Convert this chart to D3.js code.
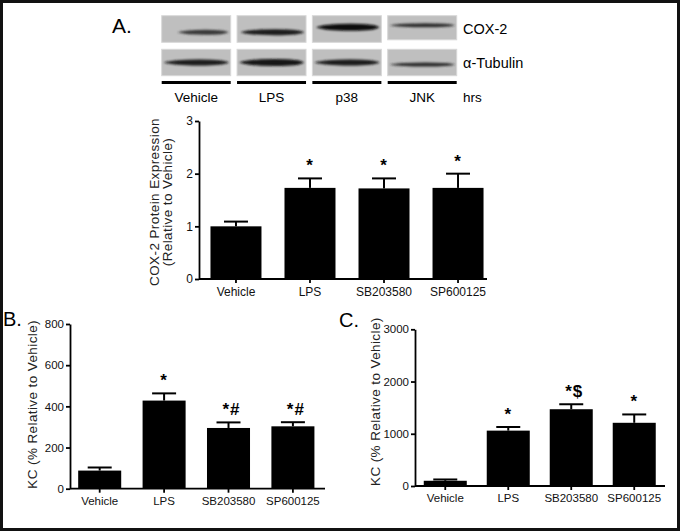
<!DOCTYPE html>
<html>
<head>
<meta charset="utf-8">
<script src="https://cdn.jsdelivr.net/npm/d3@7"></script>
<style>
  body { margin: 0; background: #fff; }
  svg { display: block; font-family: "Liberation Sans", Arial, sans-serif; }
</style>
</head>
<body>
<svg width="681" height="532"></svg>
<script>
// western blot lanes (panel A top)
var blotLanes = ["Vehicle", "LPS", "p38", "JNK"];
var coxBand = [0.75, 0.9, 1.0, 0.8];      // relative band darkness
var coxBandY = [0.62, 0.62, 0.43, 0.36];  // band centre, fraction of box
var coxBandStart = [0.2, 0.02, 0.02, 0.0];
var tubBand = [0.9, 0.95, 0.9, 0.8];
var tubBandY = [0.5, 0.5, 0.5, 0.58];

// bar charts
var groups = ["Vehicle", "LPS", "SB203580", "SP600125"];

var coxMean = [1.0, 1.73, 1.72, 1.73];
var coxErr = [0.09, 0.18, 0.19, 0.27];
var coxSig = ["", "*", "*", "*"];
var coxTicks = [0, 1, 2, 3];

var kcBMean = [88, 428, 295, 303];
var kcBErr = [15, 35, 27, 20];
var kcBSig = ["", "*", "*#", "*#"];
var kcBTicks = [0, 200, 400, 600, 800];

var kcCMean = [100, 1060, 1470, 1210];
var kcCErr = [25, 70, 95, 160];
var kcCSig = ["", "*", "*$", "*"];
var kcCTicks = [0, 1000, 2000, 3000];

var svg = d3.select("svg");

var defs = svg.append("defs");
defs.append("filter").attr("id", "blur")
    .attr("x", "-10%").attr("y", "-100%").attr("width", "120%").attr("height", "300%")
  .append("feGaussianBlur").attr("stdDeviation", "1.3 1.1");

// outer frame
svg.append("rect")
    .attr("x", 1.5).attr("y", 1.5)
    .attr("width", 677).attr("height", 528)
    .attr("fill", "none").attr("stroke", "#111").attr("stroke-width", 3);

// ---- blot ----
var lx = d3.scaleBand().domain(blotLanes).range([161.7, 456.7]).paddingInner(0.084);
var rows = [
  {top: 15.7, h: 26.6, dark: coxBand, cy: coxBandY, start: coxBandStart, thick: [5, 6, 7, 4], label: "COX-2"},
  {top: 49.3, h: 26.4, dark: tubBand, cy: tubBandY, start: [0, 0, 0, 0], thick: [6, 7, 6, 4], label: "\u03b1-Tubulin"}
];

rows.forEach(function(r) {
  var g = svg.append("g");
  g.selectAll("rect.box")
    .data(blotLanes)
    .enter().append("rect")
      .attr("class", "box")
      .attr("x", function(d) { return lx(d); })
      .attr("y", r.top)
      .attr("width", lx.bandwidth())
      .attr("height", function(d, i) { return (r.label == "COX-2" && i == 3) ? r.h - 2.5 : r.h; })
      .attr("fill", "#bfbfbf")
      .attr("stroke", "#d8d8d8")
      .attr("stroke-width", 1);

  g.selectAll("path.band")
    .data(blotLanes)
    .enter().append("path")
      .attr("class", "band")
      .attr("filter", "url(#blur)")
      .attr("fill", function(d, i) { return d3.interpolateRgb("#bfbfbf", "#0a0a0a")(r.dark[i]); })
      .attr("d", function(d, i) {
        var x0 = lx(d) + lx.bandwidth() * r.start[i] + 2,
            x1 = lx(d) + lx.bandwidth() - 2,
            cy = r.top + r.h * r.cy[i],
            t = r.thick[i] / 2,
            mx = x0 + (x1 - x0) * 0.55;
        return "M" + x0 + "," + cy +
          " Q" + (x0 + (x1 - x0) * 0.15) + "," + (cy - t) + " " + mx + "," + (cy - t) +
          " Q" + (x1 - 4) + "," + (cy - t) + " " + x1 + "," + cy +
          " Q" + (x1 - 4) + "," + (cy + t) + " " + mx + "," + (cy + t) +
          " Q" + (x0 + (x1 - x0) * 0.15) + "," + (cy + t) + " " + x0 + "," + cy + "Z";
      });

  g.append("text")
      .attr("x", 463).attr("y", r.top + r.h / 2 + 5)
      .attr("font-size", 14.5)
      .text(r.label);
});

svg.selectAll("line.lane")
  .data(blotLanes)
  .enter().append("line")
    .attr("x1", function(d) { return lx(d); })
    .attr("x2", function(d) { return lx(d) + lx.bandwidth(); })
    .attr("y1", 82.5).attr("y2", 82.5)
    .attr("stroke", "#000").attr("stroke-width", 3);

svg.selectAll("text.lane")
  .data(blotLanes)
  .enter().append("text")
    .attr("x", function(d) { return lx(d) + lx.bandwidth() / 2; })
    .attr("y", 102)
    .attr("text-anchor", "middle")
    .attr("font-size", 13.5)
    .text(function(d) { return d; });

svg.append("text").attr("x", 463).attr("y", 102).attr("font-size", 13.5).text("hrs");

// panel letters
svg.append("text").attr("x", 112).attr("y", 33).attr("font-size", 21).text("A.");
svg.append("text").attr("x", 3).attr("y", 326).attr("font-size", 20).text("B.");
svg.append("text").attr("x", 339).attr("y", 327).attr("font-size", 20).text("C.");

// ---- bar chart helper ----
function barChart(o) {
  var x = d3.scaleBand().domain(groups)
      .range([o.left, o.right])
      .paddingInner(o.pi).paddingOuter(o.po);
  var y = d3.scaleLinear().domain([0, d3.max(o.ticks)]).range([o.bottom, o.top]);
  var g = svg.append("g");

  g.selectAll("rect.bar")
    .data(o.mean)
    .enter().append("rect")
      .attr("class", "bar")
      .attr("x", function(d, i) { return x(groups[i]); })
      .attr("y", function(d) { return y(d); })
      .attr("width", x.bandwidth())
      .attr("height", function(d) { return y(0) - y(d); })
      .attr("fill", "#000");

  var eb = g.selectAll("g.err")
    .data(o.mean)
    .enter().append("g").attr("class", "err");
  eb.append("line")
      .attr("x1", function(d, i) { return x(groups[i]) + x.bandwidth() / 2; })
      .attr("x2", function(d, i) { return x(groups[i]) + x.bandwidth() / 2; })
      .attr("y1", function(d) { return y(d); })
      .attr("y2", function(d, i) { return y(d + o.err[i]); })
      .attr("stroke", "#000").attr("stroke-width", 2);
  eb.append("line")
      .attr("x1", function(d, i) { return x(groups[i]) + x.bandwidth() / 2 - o.cap; })
      .attr("x2", function(d, i) { return x(groups[i]) + x.bandwidth() / 2 + o.cap; })
      .attr("y1", function(d, i) { return y(d + o.err[i]); })
      .attr("y2", function(d, i) { return y(d + o.err[i]); })
      .attr("stroke", "#000").attr("stroke-width", 2);

  g.selectAll("text.sig")
    .data(o.sig)
    .enter().append("text")
      .attr("class", "sig")
      .attr("x", function(d, i) { return x(groups[i]) + x.bandwidth() / 2 + (d.length > 1 ? 3 : 0); })
      .attr("y", function(d, i) { return y(o.mean[i] + o.err[i]) - 7; })
      .attr("text-anchor", "middle")
      .attr("font-size", 17)
      .attr("font-weight", "bold")
      .attr("letter-spacing", 1)
      .text(function(d) { return d; });

  // y axis
  var ya = g.append("g")
      .attr("transform", "translate(" + o.left + ",0)")
      .call(d3.axisLeft(y).tickValues(o.ticks).tickFormat(d3.format("d"))
        .tickSize(4).tickSizeOuter(0).tickPadding(2));
  ya.selectAll("path, line").attr("stroke", "#000").attr("stroke-width", 1.8);
  ya.selectAll("text").attr("font-size", o.fs).attr("fill", "#111")
      .attr("font-family", "Liberation Sans, Arial, sans-serif");

  // x axis
  var xa = g.append("g")
      .attr("transform", "translate(0," + o.bottom + ")")
      .call(d3.axisBottom(x).tickSize(4).tickSizeOuter(0).tickPadding(4));
  xa.select("path.domain").attr("d", "M" + o.left + ",0H" + o.axisEnd);
  xa.selectAll("path, line").attr("stroke", "#000").attr("stroke-width", 1.8);
  xa.selectAll("text").attr("font-size", o.fs).attr("fill", "#111")
      .attr("font-family", "Liberation Sans, Arial, sans-serif");

  // y title
  var yt = g.append("text")
      .attr("transform", "translate(" + o.titleX + "," + ((o.top + o.bottom) / 2 + o.titleDy) + ") rotate(-90)")
      .attr("text-anchor", "middle")
      .attr("font-size", o.tfs)
      .attr("letter-spacing", 0.4)
      .attr("fill", "#222");
  o.title.forEach(function(t, i) {
    yt.append("tspan").attr("x", 0).attr("dy", i == 0 ? 0 : o.tfs * 0.95).text(t);
  });
}

barChart({
  left: 199, right: 495, axisEnd: 487, top: 121, bottom: 279,
  pi: 0.311, po: 0.155, cap: 12,
  mean: coxMean, err: coxErr, sig: coxSig, ticks: coxTicks,
  fs: 12, tfs: 13.5, titleX: 159, titleDy: 2,
  title: ["COX-2 Protein Expression", "(Relative to Vehicle)"]
});

barChart({
  left: 70, right: 322.6, axisEnd: 325, top: 324, bottom: 488.7,
  pi: 0.332, po: 0.127, cap: 12,
  mean: kcBMean, err: kcBErr, sig: kcBSig, ticks: kcBTicks,
  fs: 11.5, tfs: 13.5, titleX: 37, titleDy: -2,
  title: ["KC (% Relative to Vehicle)"]
});

barChart({
  left: 415, right: 664.5, axisEnd: 665, top: 329.3, bottom: 486,
  pi: 0.317, po: 0.139, cap: 12,
  mean: kcCMean, err: kcCErr, sig: kcCSig, ticks: kcCTicks,
  fs: 11.5, tfs: 13.5, titleX: 380, titleDy: -6,
  title: ["KC (% Relative to Vehicle)"]
});
</script>
</body>
</html>
